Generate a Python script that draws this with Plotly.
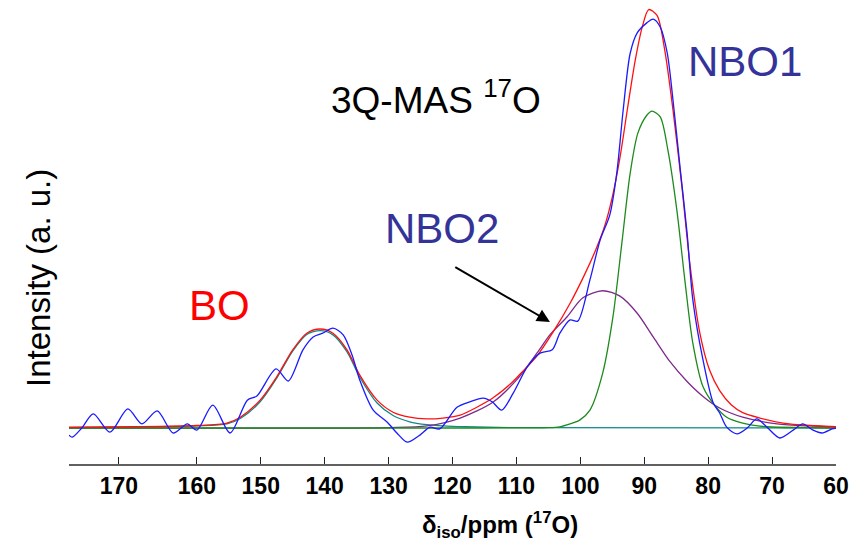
import plotly.graph_objects as go

# ---- data ----
blue_ppm = [180, 179.5, 178, 176.2, 173.6, 170.8, 168.6, 166.2, 163.7, 161.5, 160, 157.5, 154.8, 152.1,
            150.6, 147.6, 145.7, 143.4, 141.8, 140.3, 138.7, 137.1, 135.7, 134.5, 132.4, 130.2, 128.7,
            127.1, 125.1, 123.5, 122.0, 119.3, 117.3, 115.2, 113.8, 112.3, 110.5, 108.3, 106.3, 104.4,
            103.2, 101.6, 100.4, 98.5, 96.9, 95.4, 94.3, 93.3, 92.2, 91.1, 89.6, 88.6, 87.5, 86.4, 85.5,
            84.4, 83.3, 82.4, 80.8, 79.2, 78.2, 77.1, 75.5, 73.9, 72.4, 70.8, 68.8, 66.7, 65.2, 63.6,
            62.2, 60.6, 60]
blue_int = [-1.7, -2.2, 0, 3.4, -1.0, 4.6, 1.0, 4.1, -1.2, 1.0, -0.5, 5.5, -1.2, 6.7,
            7.7, 14.2, 11.3, 18.8, 21.9, 22.8, 24.0, 22.4, 17.5, 11.5, 4.3, 1.4, -1.2,
            -3.4, -1.7, 0.2, -0.2, 5.0, 6.3, 7.2, 6.3, 4.3, 8.4, 14.7, 18.0, 18.8,
            22.8, 26.0, 25.7, 35.6, 45.2, 51.2, 61.3, 76.4, 90.1, 95.0, 97.4, 98.3, 96.4, 90.1, 78.8,
            62.7, 46.9, 30.8, 16.3, 6.0, 3.6, 0.2, -1.4, 0, 2.2, 0.2, -2.4, -0.5, 1.0, -0.5,
            -1.2, -0.2, 0]

red_ppm = [180, 170, 160, 155.3, 153.2, 150.1, 147.5, 145.0, 142.8, 140.7, 138.7, 136.5, 134.5, 131.8,
           129.3, 126.7, 124.0, 121.5, 118.8, 116.2, 113.7, 111.0, 109.4, 106.8, 104.3, 101.6, 99.3,
           97.6, 96.2, 95.0, 93.8, 92.6, 91.4, 90.3, 89.3, 88.0, 86.8, 85.5, 84.1, 82.8, 81.3, 79.8,
           78.2, 76.4, 74.6, 71.9, 68.3, 64, 60]
red_int = [0.2, 0.3, 0.6, 1.2, 2.6, 6.7, 12.3, 18.8, 22.8, 23.8, 22.8, 18.8, 12.7, 6.7,
           3.8, 2.6, 2.2, 2.4, 3.1, 5.0, 7.2, 10.5, 13.0, 17.3, 23.0, 30.0, 37.0,
           42.8, 48.5, 55.5, 65.0, 77.0, 88.5, 96.5, 100.6, 99.2, 90.9, 76.4, 57.9, 38.7, 22.8, 14.0,
           9.0, 5.6, 3.7, 2.4, 1.2, 0.6, 0.3]

bo_ppm = [180, 170, 160, 155.3, 153.2, 150.1, 147.5, 145.0, 142.8, 140.7, 138.7, 136.5, 134.5, 131.8,
          129.3, 126.7, 124.0, 121.5, 118, 110, 60]
bo_int = [0.1, 0.2, 0.5, 1.0, 2.3, 6.3, 12.0, 18.5, 22.5, 23.4, 22.4, 18.3, 12.2, 6.0,
          3.0, 1.5, 0.8, 0.5, 0.3, 0.1, 0]

nbo1_ppm = [180, 120, 105, 103.2, 101.6, 100.1, 98.5, 96.5, 94.9, 93.5, 92.2, 91.0, 89.6, 88.8, 87.5,
            86.3, 84.9, 83.6, 82.4, 80.8, 79.0, 77.1, 74.6, 70.8, 65, 60]
nbo1_int = [0, 0, 0.1, 0.3, 1.0, 1.9, 4.3, 13.2, 26.7, 44.5, 61.3, 70.9, 75.2, 76.2, 74.8,
            66.8, 52.4, 34.9, 20.4, 9.9, 5.5, 2.6, 1.2, 0.3, 0.1, 0]

nbo2_ppm = [180, 130, 124, 118.8, 113.7, 109.9, 106.8, 104.7, 102.1, 99.6, 96.5, 93.8, 91.1, 88.6,
            86.0, 83.3, 80.8, 78.2, 74.6, 69.2, 64.1, 60]
nbo2_int = [0, 0.1, 0.5, 2.4, 6.2, 11.7, 18.0, 22.5, 26.7, 31.3, 33.0, 31.7, 27.6, 21.9,
            16.0, 11.2, 7.6, 4.8, 2.6, 1.0, 0.5, 0.3]

tick_vals = [172.2, 160, 150, 140, 130, 120, 110, 100, 90, 80, 70, 60]
tick_text = ["170", "160", "150", "140", "130", "120", "110", "100", "90", "80", "70", "60"]

# ---- layout helpers (pixel -> paper) ----
L, R, T, B = 69, 836, 0, 464
W, H = 868, 549
def px(x):
    return (x - L) / (R - L)
def py(y):
    return (B - y) / (B - T)

FONT = "Liberation Sans, Arial, sans-serif"

fig = go.Figure()
def add(xs, ys, color, width=1.3):
    fig.add_trace(go.Scatter(x=xs, y=ys, mode="lines", line=dict(color=color, width=width, shape="spline", smoothing=0.8),
                             hoverinfo="skip", showlegend=False))

add(bo_ppm, bo_int, "#0f8a86")
add(nbo2_ppm, nbo2_int, "#7d2a8c")
add(nbo1_ppm, nbo1_int, "#1c8a1c")
add(red_ppm, red_int, "#ff1010")
add(blue_ppm, blue_int, "#1a1aff")

fig.update_layout(
    width=W, height=H,
    margin=dict(l=L, r=W - R, t=T, b=H - B),
    paper_bgcolor="white", plot_bgcolor="white",
    font=dict(family=FONT, color="black"),
    xaxis=dict(range=[180, 60], autorange=False, showgrid=False, zeroline=False,
               showline=True, linecolor="#606060", linewidth=2,
               ticks="inside", ticklen=7, tickwidth=1, tickcolor="#222",
               tickvals=tick_vals, ticktext=tick_text,
               tickfont=dict(family=FONT, size=23, color="black", weight="bold"),
               ticklabelstandoff=0),
    yaxis=dict(range=[-8.65, 102.9], autorange=False, visible=False),
)

ann = [
    dict(x=px(436), y=py(97), text="3Q-MAS <sup>17</sup>O", font=dict(size=37, color="black")),
    dict(x=px(745), y=py(61), text="NBO1", font=dict(size=42, color="#333399")),
    dict(x=px(442), y=py(228), text="NBO2", font=dict(size=42, color="#333399")),
    dict(x=px(219), y=py(305), text="BO", font=dict(size=42, color="#ff0000")),
    dict(x=px(38), y=py(278), text="Intensity (a. u.)", textangle=-90, font=dict(size=33, color="black")),
    dict(x=px(500), y=py(525), text="<b>δ<sub>iso</sub>/ppm (<sup>17</sup>O)</b>", font=dict(size=24, color="black")),
]
for a in ann:
    fig.add_annotation(xref="paper", yref="paper", showarrow=False, xanchor="center", yanchor="middle",
                       font_family=FONT, **{k: v for k, v in a.items()})

fig.add_annotation(xref="x", yref="y", axref="x", ayref="y", x=104.75, y=25.5, ax=119.8, ay=38.9,
                   text="", showarrow=True, arrowhead=2, arrowsize=1.3, arrowwidth=2, arrowcolor="black")

fig.write_html("out.html")
